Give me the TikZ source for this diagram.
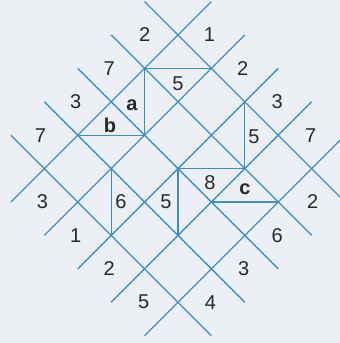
\documentclass[tikz,border=0pt]{standalone}
\usepackage{fontspec}
\setmainfont{Liberation Sans}
\usetikzlibrary{calc}
\definecolor{gridblue}{RGB}{62,142,198}
\definecolor{paper}{RGB}{236,239,243}
\definecolor{ink}{RGB}{40,40,40}
\tikzset{
  gridline/.style={draw=gridblue, line width=1.3pt},
  diagline/.style={draw=gridblue, line width=1.2pt},
  num/.style={text=ink, font=\fontsize{20}{20}\selectfont, inner sep=0pt},
  letter/.style={text=ink, font=\fontsize{20}{20}\selectfont\bfseries, inner sep=0pt}
}
\begin{document}
\begin{tikzpicture}[x=1pt,y=-1pt]
\fill[paper] (0,0) rectangle (340,343);
\useasboundingbox (0,0) rectangle (340,343);
\clip (0,0) rectangle (340,343);
% lattice points P(i,j), index -1 written as m
\foreach \i/\a in {-1/m,0/0,1/1,2/2,3/3,4/4,5/5}{
  \foreach \j/\b in {-1/m,0/0,1/1,2/2,3/3,4/4,5/5}{
    \coordinate (p\a\b) at ({178+33.4*(\i-\j)},{35+33.4*(\i+\j)});
  }
}
% the two families of lines
\foreach \k in {0,...,4}{
  \draw[gridline] (p\k m) -- (p\k 5);
  \draw[gridline] (pm\k) -- (p5\k);
}
% diagonals inside cells
\draw[diagline] (p01) -- (p10);
\draw[diagline] (p01) -- (p12);
\draw[diagline] (p03) -- (p12);
\draw[diagline] (p20) -- (p31);
\draw[diagline] (p22) -- (p31);
\draw[diagline] (p32) -- (p41);
\draw[diagline] (p22) -- (p33);
\draw[diagline] (p13) -- (p24);
% outer numbers (cell centres)
\node[num] (t1) at ($(pm0)!0.5!(p01)$) {2};
\node[num] (t2) at ([xshift=-2pt]$(p0m)!0.5!(p10)$) {1};
\node[num] (t3) at ([xshift=-2pt]$(pm1)!0.5!(p02)$) {7};
\node[num] (t4) at ([xshift=-2pt]$(p1m)!0.5!(p20)$) {2};
\node[num] (t5) at ([xshift=-2pt]$(pm2)!0.5!(p03)$) {3};
\node[num] (t6) at ([xshift=-1pt]$(p2m)!0.5!(p30)$) {3};
\node[num] (t7) at ([xshift=-4pt]$(pm3)!0.5!(p04)$) {7};
\node[num] (t8) at ([xshift=-1pt]$(p3m)!0.5!(p40)$) {7};
\node[num] (t9) at ([xshift=-2pt]$(p04)!0.5!(p15)$) {3};
\node[num] (t10) at ([xshift=-2pt]$(p14)!0.5!(p25)$) {1};
\node[num] (t11) at ([xshift=-2pt]$(p24)!0.5!(p35)$) {2};
\node[num] (t12) at ([xshift=-1pt]$(p34)!0.5!(p45)$) {5};
\node[num] (t13) at ([xshift=-1pt]$(p43)!0.5!(p54)$) {4};
\node[num] (t14) at ([xshift=-1pt]$(p42)!0.5!(p53)$) {3};
\node[num] (t15) at ([xshift=-1pt]$(p41)!0.5!(p52)$) {6};
\node[num] (t16) at ([xshift=1pt]$(p40)!0.5!(p51)$) {2};
% inner labels
\node[num] (i1) at (178,84) {5};
\node[letter] (la) at (132,105) {a};
\node[letter] (lb) at (110,125) {b};
\node[num] (i2) at (254,137) {5};
\node[num] (i3) at (210,183) {8};
\node[letter] (lc) at (245,189) {c};
\node[num] (i4) at (121,202) {6};
\node[num] (i5) at (166,202) {5};
\end{tikzpicture}
\end{document}
